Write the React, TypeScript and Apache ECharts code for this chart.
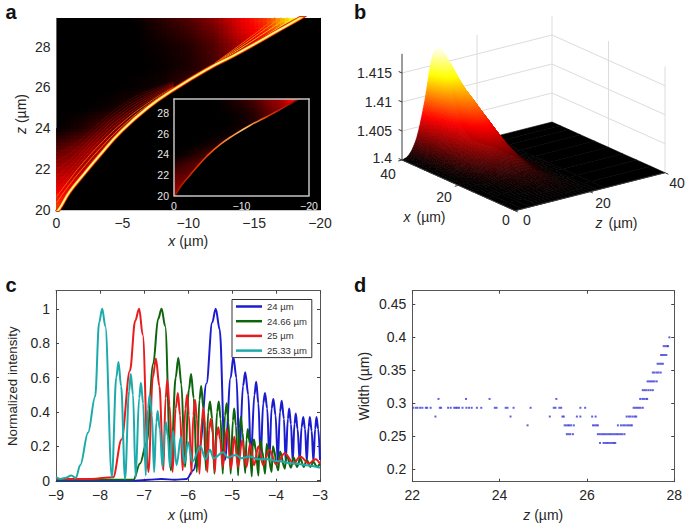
import React, { useEffect, useRef } from "react";
import * as echarts from "echarts";

const FONT = "Liberation Sans";
const TXT = "#262626";

// ---------- panel a ----------
const aFieldX = [0, -2, -4, -6, -8, -10, -12, -14, -16, -18, -20];
const aFieldZ = [20, 21, 22, 23, 24, 25, 26, 27, 28, 29, 29.4];
const aField = [
  [0.5, 0.4, 0, 0, 0, 0, 0, 0, 0, 0, 0],
  [0.36, 0.36, 0.25, 0, 0, 0, 0, 0, 0, 0, 0],
  [0.25, 0.27, 0.3, 0.2, 0, 0, 0, 0, 0, 0, 0],
  [0.12, 0.2, 0.28, 0.32, 0.2, 0, 0, 0, 0, 0, 0],
  [0, 0.05, 0.14, 0.25, 0.3, 0.15, 0, 0, 0, 0, 0],
  [0, 0, 0.02, 0.07, 0.17, 0.26, 0.1, 0, 0, 0, 0],
  [0, 0, 0, 0.01, 0.03, 0.11, 0.2, 0.18, 0, 0, 0],
  [0, 0, 0, 0, 0.01, 0.04, 0.1, 0.24, 0.3, 0, 0],
  [0, 0, 0, 0, 0.02, 0.05, 0.12, 0.25, 0.38, 0.5, 0],
  [0, 0, 0, 0, 0.05, 0.1, 0.18, 0.33, 0.44, 0.72, 0.7],
  [0, 0, 0, 0.02, 0.07, 0.13, 0.22, 0.36, 0.47, 0.8, 0.8],
];
const caustic = [[0, 19.9], [-0.25, 20.1], [-1, 20.9], [-2, 21.7], [-3.3, 22.7], [-4.9, 23.85], [-6.9, 25], [-8.9, 25.9], [-11.6, 26.95], [-13.4, 27.55], [-14.9, 28.08], [-16.8, 28.78], [-18.5, 29.4], [-19, 29.6]];
const lowFringes = [
  [[0, 20.35], [-1, 21.25], [-2, 22.05], [-3.3, 23], [-4.9, 24.05], [-6.9, 25.12], [-8.9, 25.97]],
  [[0, 20.65], [-1, 21.5], [-2, 22.3], [-3.3, 23.22], [-4.9, 24.22], [-6.9, 25.22], [-8.9, 26.02]],
  [[0, 20.95], [-1, 21.72], [-2, 22.5], [-3.3, 23.42], [-4.9, 24.38], [-6.9, 25.32], [-8.9, 26.06]],
  [[0, 21.3], [-1, 21.95], [-2, 22.7], [-3.3, 23.6], [-4.9, 24.52], [-6.9, 25.42], [-8.9, 26.1]],
  [[0, 21.65], [-1, 22.2], [-2, 22.9], [-3.3, 23.78], [-4.9, 24.68], [-6.9, 25.52], [-8.9, 26.14]],
  [[0, 22], [-1, 22.45], [-2, 23.1], [-3.3, 23.95], [-4.9, 24.82], [-6.9, 25.62], [-8.9, 26.18]],
  [[0, 22.4], [-1, 22.75], [-2, 23.3], [-3.3, 24.12], [-4.9, 24.98], [-6.9, 25.72], [-8.9, 26.22]],
  [[0, 22.8], [-1, 23.05], [-2, 23.55], [-3.3, 24.3], [-4.9, 25.12], [-6.9, 25.82], [-8.9, 26.26]],
];
const highFringes = [
  [[-12, 27.12], [-14, 27.82], [-16, 28.58], [-18.1, 29.45]],
  [[-12, 27.14], [-14, 27.92], [-16, 28.76], [-17.6, 29.45]],
  [[-12, 27.16], [-14, 28.02], [-16, 28.94], [-17.1, 29.45]],
  [[-12, 27.18], [-14, 28.12], [-16, 29.1], [-16.6, 29.45]],
];
const aXTicks = [0, -5, -10, -15, -20];
const aZTicks = [20, 22, 24, 26, 28];
const insetXTicks = [0, -10, -20];

// ---------- panel b ----------
const bX = [40, 37, 34, 30, 25, 20, 15, 10, 5, 0];
const bZ = [0, 2, 4, 6, 8, 10, 12, 14, 16, 18, 20, 22, 24, 40];
const bH = [
  [0, 0.7, 3.4, 9, 16.3, 17.7, 14, 8, 3.5, 1, 0.2, 0, 0, 0],
  [0, 0.5, 2.6, 7, 12.5, 15.5, 13.5, 8, 3.5, 1, 0.2, 0, 0, 0],
  [0, 0.4, 1.8, 5, 9, 11.5, 11.8, 9, 5, 1.8, 0.4, 0, 0, 0],
  [0, 0.3, 1.2, 3.2, 6, 8.6, 9.5, 8, 4.5, 1.5, 0.3, 0, 0, 0],
  [0, 0.15, 0.7, 1.8, 3.5, 5.2, 6.1, 5.8, 3.8, 1.7, 0.4, 0.1, 0, 0],
  [0, 0.1, 0.3, 0.7, 1.5, 2.3, 2.8, 3, 2.4, 1.2, 0.4, 0.1, 0, 0],
  [0, 0, 0.1, 0.3, 0.6, 0.9, 1.2, 1.3, 1.2, 0.7, 0.2, 0, 0, 0],
  [0, 0, 0, 0.1, 0.2, 0.35, 0.5, 0.6, 0.6, 0.4, 0.2, 0, 0, 0],
  [0, 0, 0, 0, 0.05, 0.1, 0.15, 0.2, 0.2, 0.15, 0.1, 0, 0, 0],
  [0, 0, 0, 0, 0, 0, 0, 0, 0, 0, 0, 0, 0, 0],
];
const bWallLevels = [5, 10, 15];
const bWallTop = 18.3;

// ---------- panel c ----------
const blue = [[-9, 0], [-7.2, 0], [-6.9, 0.005], [-6.6, 0.01], [-6.3, 0.005], [-6.03, 0.01], [-5.88, 0.06], [-5.73, 0.2], [-5.58, 0.565], [-5.45, 0.92], [-5.37, 1], [-5.28, 0.88], [-5.16, 0.12], [-5.03, 0.6], [-4.97, 0.72], [-4.9, 0.6], [-4.83, 0.15], [-4.75, 0.55], [-4.7, 0.63], [-4.63, 0.5], [-4.57, 0.14], [-4.49, 0.5], [-4.45, 0.575], [-4.4, 0.45], [-4.35, 0.13], [-4.29, 0.45], [-4.25, 0.51], [-4.2, 0.42], [-4.15, 0.12], [-4.1, 0.42], [-4.06, 0.475], [-4.01, 0.38], [-3.96, 0.11], [-3.91, 0.4], [-3.87, 0.465], [-3.82, 0.36], [-3.78, 0.11], [-3.73, 0.36], [-3.7, 0.42], [-3.66, 0.33], [-3.62, 0.11], [-3.58, 0.33], [-3.55, 0.39], [-3.51, 0.3], [-3.46, 0.11], [-3.42, 0.31], [-3.38, 0.37], [-3.34, 0.3], [-3.3, 0.11], [-3.26, 0.31], [-3.23, 0.37], [-3.19, 0.29], [-3.15, 0.11], [-3.11, 0.3], [-3.08, 0.37], [-3.04, 0.3], [-3, 0.12]];
const green = [[-9, 0.005], [-7.24, 0.005], [-7.09, 0.1], [-6.94, 0.22], [-6.79, 0.68], [-6.68, 0.94], [-6.6, 1], [-6.52, 0.9], [-6.39, 0.06], [-6.28, 0.6], [-6.22, 0.715], [-6.15, 0.56], [-6.07, 0.08], [-5.98, 0.53], [-5.93, 0.62], [-5.87, 0.48], [-5.8, 0.05], [-5.74, 0.47], [-5.7, 0.55], [-5.65, 0.42], [-5.59, 0.06], [-5.54, 0.4], [-5.5, 0.46], [-5.45, 0.36], [-5.4, 0.04], [-5.34, 0.4], [-5.3, 0.46], [-5.26, 0.36], [-5.21, 0.04], [-5.16, 0.38], [-5.12, 0.45], [-5.08, 0.34], [-5.03, 0.04], [-4.98, 0.35], [-4.95, 0.42], [-4.91, 0.32], [-4.86, 0.03], [-4.83, 0.3], [-4.8, 0.37], [-4.76, 0.28], [-4.7, 0.045], [-4.67, 0.24], [-4.64, 0.3], [-4.6, 0.22], [-4.55, 0.025], [-4.53, 0.2], [-4.5, 0.24], [-4.46, 0.18], [-4.4, 0.03], [-4.38, 0.18], [-4.35, 0.235], [-4.31, 0.17], [-4.25, 0.04], [-4.21, 0.215], [-4.1, 0.05], [-4.07, 0.2], [-3.95, 0.06], [-3.91, 0.17], [-3.8, 0.07], [-3.76, 0.15], [-3.66, 0.075], [-3.6, 0.135], [-3.52, 0.08], [-3.45, 0.13], [-3.37, 0.08], [-3.3, 0.12], [-3.22, 0.08], [-3.15, 0.11], [-3.07, 0.08], [-3, 0.1]];
const red = [[-9, 0.01], [-8.2, 0.01], [-7.7, 0.02], [-7.51, 0.24], [-7.32, 0.64], [-7.2, 0.93], [-7.11, 1], [-7.03, 0.85], [-6.9, 0.05], [-6.8, 0.6], [-6.73, 0.71], [-6.65, 0.55], [-6.56, 0.06], [-6.51, 0.48], [-6.47, 0.585], [-6.42, 0.44], [-6.35, 0.05], [-6.28, 0.42], [-6.23, 0.51], [-6.18, 0.38], [-6.12, 0.06], [-6.06, 0.42], [-6.02, 0.5], [-5.98, 0.38], [-5.92, 0.04], [-5.88, 0.38], [-5.84, 0.47], [-5.8, 0.36], [-5.74, 0.04], [-5.69, 0.34], [-5.65, 0.42], [-5.61, 0.32], [-5.56, 0.05], [-5.52, 0.3], [-5.48, 0.36], [-5.44, 0.28], [-5.39, 0.05], [-5.35, 0.26], [-5.31, 0.31], [-5.27, 0.24], [-5.21, 0.08], [-5.12, 0.3], [-5.02, 0.07], [-4.95, 0.255], [-4.86, 0.08], [-4.77, 0.235], [-4.67, 0.08], [-4.59, 0.215], [-4.5, 0.09], [-4.4, 0.2], [-4.29, 0.09], [-4.15, 0.18], [-4, 0.095], [-3.8, 0.16], [-3.6, 0.1], [-3.45, 0.14], [-3.25, 0.1], [-3.1, 0.125], [-3, 0.1]];
const teal = [[-9, 0.02], [-8.9, 0.01], [-8.8, 0.015], [-8.65, 0.03], [-8.55, 0.015], [-8.45, 0.09], [-8.27, 0.28], [-8.11, 0.49], [-8.02, 0.92], [-7.95, 1], [-7.88, 0.9], [-7.73, 0.02], [-7.63, 0.6], [-7.58, 0.69], [-7.52, 0.55], [-7.43, 0.01], [-7.34, 0.52], [-7.3, 0.62], [-7.25, 0.5], [-7.19, 0.02], [-7.11, 0.48], [-7.07, 0.57], [-7.02, 0.45], [-6.96, 0.03], [-6.91, 0.42], [-6.87, 0.5], [-6.82, 0.38], [-6.77, 0.05], [-6.72, 0.34], [-6.69, 0.405], [-6.64, 0.3], [-6.58, 0.08], [-6.53, 0.29], [-6.5, 0.34], [-6.46, 0.26], [-6.41, 0.08], [-6.34, 0.29], [-6.26, 0.09], [-6.16, 0.255], [-6.08, 0.1], [-6, 0.225], [-5.9, 0.11], [-5.72, 0.2], [-5.6, 0.125], [-5.5, 0.18], [-5.42, 0.13], [-5.2, 0.165], [-5.1, 0.135], [-4.9, 0.15], [-4.8, 0.13], [-4.6, 0.14], [-4.4, 0.125], [-4.2, 0.125], [-4, 0.115], [-3.6, 0.1], [-3.3, 0.09], [-3, 0.075]];
const cXTicks = [-9, -8, -7, -6, -5, -4, -3];
const cYTicks = [0, 0.2, 0.4, 0.6, 0.8, 1];

// ---------- panel d ----------
const dLevels: [number, number[]][] = [
  [0.24, [26.3, 26.38, 26.42, 26.46, 26.5, 26.54, 26.58, 26.62, 26.65]],
  [0.2533, [25.54, 25.58, 25.62, 25.68, 26.25, 26.29, 26.33, 26.37, 26.41, 26.45, 26.49, 26.53, 26.57, 26.61, 26.65, 26.69, 26.73, 26.77, 26.81, 26.86]],
  [0.2667, [24.64, 25.49, 25.53, 25.57, 25.6, 25.64, 25.7, 26.14, 26.18, 26.22, 26.25, 26.71, 26.78, 26.83, 26.87, 26.92, 26.96, 27.0, 27.03]],
  [0.28, [22.53, 24.25, 25.15, 25.44, 25.47, 25.77, 25.85, 26.12, 26.2, 26.91, 26.96, 27.0, 27.05, 27.1, 27.13]],
  [0.2933, [22.02, 22.08, 22.12, 22.18, 22.23, 22.31, 22.34, 22.42, 22.63, 22.66, 22.82, 22.88, 22.96, 23.0, 23.03, 23.07, 23.15, 23.24, 23.3, 23.36, 23.48, 23.58, 23.89, 23.93, 24.14, 24.18, 24.32, 24.71, 25.24, 25.28, 25.37, 25.41, 25.85, 25.96, 27.07, 27.11, 27.15, 27.19, 27.23, 27.28]],
  [0.3067, [22.6, 23.23, 23.77, 25.3, 27.22, 27.27, 27.31, 27.36, 27.38]],
  [0.32, [27.28, 27.32, 27.36, 27.41, 27.46, 27.51]],
  [0.3333, [27.39, 27.43, 27.47, 27.51, 27.55, 27.6]],
  [0.3467, [27.51, 27.55, 27.6, 27.64, 27.69]],
  [0.36, [27.62, 27.66, 27.7, 27.74]],
  [0.3733, [27.7, 27.74, 27.78, 27.82]],
  [0.3867, [27.76, 27.8, 27.84, 27.86]],
  [0.4, [27.89]],
];
const dXTicks = [22, 24, 26, 28];
const dYTicks = [0.2, 0.25, 0.3, 0.35, 0.4, 0.45];

function clamp01(v: number) {
  return Math.max(0, Math.min(1, v));
}
function hot(t: number) {
  const r = clamp01(t / 0.375);
  const g = clamp01((t - 0.375) / 0.375);
  const b = clamp01((t - 0.75) / 0.25);
  return `rgb(${Math.round(r * 255)},${Math.round(g * 255)},${Math.round(b * 255)})`;
}
const minus = (v: number) => String(v).replace("-", "\u2212");

const axisTitle = (text: string, italicFirst: boolean) =>
  italicFirst ? `{i|${text[0]}}${text.slice(1)}` : text;
const nameStyle = (fontSize = 14) => ({
  fontFamily: FONT,
  fontSize,
  color: TXT,
  rich: { i: { fontFamily: FONT, fontStyle: "italic", fontSize, color: TXT } },
});

function boxX(gridIndex: number, min: number, max: number, ticks: number[], name: string, color: string, tickLen: number, inverse = false, gap = 26): any[] {
  const common = {
    type: "value", gridIndex, min, max, inverse, splitLine: { show: false },
    axisLine: { show: true, onZero: false, lineStyle: { color, width: 1 } },
    axisTick: { show: tickLen > 0, inside: true, length: tickLen, customValues: ticks, lineStyle: { color: "#444" } },
  };
  return [
    {
      ...common, position: "bottom", name: axisTitle(name, true), nameLocation: "middle", nameGap: gap, nameTextStyle: nameStyle(),
      axisLabel: { customValues: ticks, formatter: minus, fontFamily: FONT, fontSize: 14, color: TXT, margin: 6, hideOverlap: false },
    },
    { ...common, position: "top", axisLabel: { show: false } },
  ];
}
function boxY(gridIndex: number, min: number, max: number, ticks: number[], name: string, italic: boolean, color: string, tickLen: number, gap: number, nameSize = 14): any[] {
  const common = {
    type: "value", gridIndex, min, max, splitLine: { show: false },
    axisLine: { show: true, onZero: false, lineStyle: { color, width: 1 } },
    axisTick: { show: tickLen > 0, inside: true, length: tickLen, customValues: ticks, lineStyle: { color: "#444" } },
  };
  return [
    {
      ...common, position: "left", name: axisTitle(name, italic), nameLocation: "middle", nameGap: gap, nameTextStyle: nameStyle(nameSize),
      axisLabel: { customValues: ticks, fontFamily: FONT, fontSize: 14, color: TXT, margin: 6 },
    },
    { ...common, position: "right", axisLabel: { show: false } },
  ];
}

function fieldCells() {
  const out: number[][] = [];
  for (let j = 0; j < aFieldZ.length - 1; j++) {
    for (let i = 0; i < aFieldX.length - 1; i++) {
      out.push([aFieldX[i], aFieldZ[j], aFieldX[i + 1], aFieldZ[j + 1], aField[j][i], aField[j][i + 1], aField[j + 1][i], aField[j + 1][i + 1]]);
    }
  }
  return out;
}
function fieldRender(scale: number) {
  return (params: any, api: any) => {
    const [x0, z0, x1, z1, a, b, c, d] = [0, 1, 2, 3, 4, 5, 6, 7].map((k) => api.value(k));
    if (Math.max(a, b, c, d) <= 0) return { type: "group", children: [] };
    const n = 6;
    const children: any[] = [];
    for (let u = 0; u < n; u++) {
      for (let v = 0; v < n; v++) {
        const fu = (u + 0.5) / n;
        const fv = (v + 0.5) / n;
        const t = (a * (1 - fu) + b * fu) * (1 - fv) + (c * (1 - fu) + d * fu) * fv;
        if (t <= 0.005) continue;
        const xa = x0 + ((x1 - x0) * u) / n;
        const xb = x0 + ((x1 - x0) * (u + 1)) / n;
        const za = z0 + ((z1 - z0) * v) / n;
        const zb = z0 + ((z1 - z0) * (v + 1)) / n;
        const col = hot(t * scale);
        children.push({
          type: "polygon", silent: true,
          shape: { points: [api.coord([xa, za]), api.coord([xb, za]), api.coord([xb, zb]), api.coord([xa, zb])] },
          style: { fill: col, stroke: col, lineWidth: 0.6 },
        });
      }
    }
    return { type: "group", children };
  };
}

function aSeries(xIdx: number, yIdx: number, inset: boolean): any[] {
  const zb = inset ? 6 : 0;
  const line = (data: number[][], color: any, width: number, opacity = 1, z = 3) => ({
    type: "line", xAxisIndex: xIdx, yAxisIndex: yIdx, data, symbol: "none", smooth: 0.5, clip: true, z: z + zb,
    lineStyle: { color, width, opacity }, silent: true,
  });
  const s: any[] = [
    { type: "custom", xAxisIndex: xIdx, yAxisIndex: yIdx, data: fieldCells(), encode: { x: [0, 2], y: [1, 3] }, clip: true, z: 1 + zb, silent: true, renderItem: fieldRender(inset ? 0.55 : 1) },
    {
      type: "custom", xAxisIndex: xIdx, yAxisIndex: yIdx, data: [[0, 20]], clip: true, z: 2 + zb, silent: true,
      renderItem: (_: any, api: any) => ({
        type: "polygon", silent: true,
        shape: { points: [...caustic, [-25, 29.6], [-25, 15], [0, 15]].map((p) => api.coord(p)) },
        style: { fill: "#000" },
      }),
    },
  ];
  if (!inset) {
    lowFringes.forEach((f, i) => s.push(line(f, i < 2 ? "#ff7a00" : "#e01400", i < 2 ? 1 : 0.9, 0.85 - i * 0.09)));
    highFringes.forEach((f, i) => s.push(line(f, ["#ffe030", "#ffc000", "#ff9000", "#ff6000"][i], 1)));
    s.push(line(caustic, "#d81800", 4, 1, 4), line(caustic, "#ffb000", 2.6, 1, 4), line(caustic, "#fff6b0", 1.3, 1, 4));
  } else {
    const grad = new echarts.graphic.LinearGradient(0, 0, 1, 0, [
      { offset: 0, color: "#a01000" }, { offset: 0.25, color: "#f04000" }, { offset: 0.55, color: "#ffc060" },
      { offset: 0.75, color: "#e03000" }, { offset: 1, color: "#600800" },
    ]);
    s.push(line(caustic, grad, 1.6, 1, 4));
  }
  return s;
}

// painter's order: far corner (x = 40, z = 40) first
function project(x: number, z: number, h: number): [number, number] {
  return [515 - 2.825 * x + 3.75 * z, 210.7 - 1.2675 * x - 0.95 * z - 5.8 * h];
}
function cr(p0: number, p1: number, p2: number, p3: number, t: number) {
  return 0.5 * (2 * p1 + (p2 - p0) * t + (2 * p0 - 5 * p1 + 4 * p2 - p3) * t * t + (3 * p1 - p0 - 3 * p2 + p3) * t * t * t);
}
function surface(i: number, j: number, fu: number, fv: number) {
  const ri = (k: number) => Math.max(0, Math.min(bX.length - 1, k));
  const rj = (k: number) => Math.max(0, Math.min(bZ.length - 1, k));
  const row = (r: number) => cr(bH[ri(r)][rj(j - 1)], bH[ri(r)][rj(j)], bH[ri(r)][rj(j + 1)], bH[ri(r)][rj(j + 2)], fv);
  return Math.max(0, cr(row(i - 1), row(i), row(i + 1), row(i + 2), fu));
}
function bCells() {
  const out: number[][] = [];
  for (let i = 0; i < bX.length - 1; i++) {
    for (let j = bZ.length - 2; j >= 0; j--) out.push([i, j]);
  }
  return out;
}
function bRender(_: any, api: any) {
  const i = api.value(0);
  const j = api.value(1);
  const corners = [bH[i][j], bH[i][j + 1], bH[i + 1][j], bH[i + 1][j + 1]];
  const range = Math.max(...corners) - Math.min(...corners);
  const top = Math.max(...corners);
  const n = top === 0 ? 1 : Math.max(2, Math.min(12, Math.ceil(range * 2.5) + 1));
  const children: any[] = [];
  for (let u = 0; u < n; u++) {
    for (let v = n - 1; v >= 0; v--) {
      const f = [[u / n, v / n], [(u + 1) / n, v / n], [(u + 1) / n, (v + 1) / n], [u / n, (v + 1) / n]];
      const pts = f.map(([fu, fv]) => api.coord(project(bX[i] + (bX[i + 1] - bX[i]) * fu, bZ[j] + (bZ[j + 1] - bZ[j]) * fv, surface(i, j, fu, fv))));
      const col = hot(surface(i, j, (u + 0.5) / n, (v + 0.5) / n) / 18);
      children.push({ type: "polygon", silent: true, shape: { points: pts }, style: { fill: col, stroke: col, lineWidth: 0.6 } });
    }
  }
  return { type: "group", children };
}
function bFrame(): number[][] {
  // x0, z0, h0, x1, z1, h1, kind (0 wall, 1 axis)
  const segs: number[][] = [];
  bWallLevels.forEach((h) => {
    segs.push([40, 0, h, 40, 40, h, 0], [40, 40, h, 0, 40, h, 0]);
  });
  segs.push([40, 20, 0, 40, 20, bWallTop, 0], [40, 40, 0, 40, 40, bWallTop, 0], [20, 40, 0, 20, 40, bWallTop, 0], [0, 40, 0, 0, 40, bWallTop, 0]);
  return segs;
}
function bAxisSegs(): number[][] {
  return [
    [40, 0, 0, 40, 0, bWallTop, 1], [40, 0, 0, 0, 0, 0, 1], [0, 0, 0, 0, 40, 0, 1],
    [40, 0, 5, 41.2, 0, 5, 1], [40, 0, 10, 41.2, 0, 10, 1], [40, 0, 15, 41.2, 0, 15, 1], [40, 0, 0, 41.2, 0, 0, 1],
    [20, 0, 0, 20, -1, 0, 1], [40, 0, 0, 40, -1, 0, 1], [0, 20, 0, -1, 20, 0, 1], [0, 40, 0, -1.2, 40, 0, 1],
    [0, 0, 0, -1, 0, 0, 1],
  ];
}
function segRender(_: any, api: any) {
  const v = [0, 1, 2, 3, 4, 5, 6].map((k) => api.value(k));
  const a = api.coord(project(v[0], v[1], v[2]));
  const b = api.coord(project(v[3], v[4], v[5]));
  return {
    type: "line", silent: true, shape: { x1: a[0], y1: a[1], x2: b[0], y2: b[1] },
    style: { stroke: v[6] ? "#3a3a3a" : "#dcdcdc", lineWidth: 1 },
  };
}

const label = (text: string, x: number, y: number, opts: any = {}) => ({
  type: "text", x, y, silent: true,
  style: { text, fontFamily: FONT, fontSize: 14, fill: TXT, textAlign: "center", textVerticalAlign: "middle", ...opts },
});
const richUnit = (letter: string, x: number, y: number) => ({
  type: "group", children: [
    label(letter, x - 17, y, { fontStyle: "italic" }),
    label("(\u00b5m)", x + 7, y),
  ],
});

export default function App() {
  const ref = useRef<HTMLDivElement>(null);
  useEffect(() => {
    const chart = echarts.init(ref.current!, null, { renderer: "svg" });
    const dData: number[][] = [];
    dLevels.forEach(([y, xs]) => xs.forEach((x) => dData.push([x, y])));
    const cLine = (name: string, data: number[][], color: string, z: number) => ({
      name, type: "line", xAxisIndex: 6, yAxisIndex: 6, data, symbol: "none", smooth: 0.35, smoothMonotone: "x", z,
      lineStyle: { color, width: 2 }, itemStyle: { color }, clip: true,
    });
    const insetTick = { fontFamily: FONT, fontSize: 10.5, color: "#e6e6e6", margin: 5 };
    chart.setOption({
      animation: false,
      backgroundColor: "#fff",
      grid: [
        { left: 56.5, top: 18, width: 263.5, height: 192, show: true, backgroundColor: "#000", borderWidth: 0, z: 1 },
        { left: 174, top: 99, width: 135, height: 96.5, show: true, backgroundColor: "#000", borderWidth: 0, z: 5 },
        { left: 0, top: 0, width: 685, height: 525 },
        { left: 56, top: 290.7, width: 264, height: 191 },
        { left: 412.3, top: 290.7, width: 262.7, height: 191 },
      ],
      xAxis: [
        ...boxX(0, -20, 0, aXTicks, "x (\u00b5m)", "#c8c8c8", 0, true, 24),
        {
          type: "value", gridIndex: 1, min: -20, max: 0, inverse: true, position: "bottom", splitLine: { show: false }, z: 12,
          axisLine: { show: true, onZero: false, lineStyle: { color: "#c4c4c4", width: 1.5 } }, axisTick: { show: false },
          axisLabel: { ...insetTick, customValues: insetXTicks, formatter: minus },
        },
        { type: "value", gridIndex: 1, min: -20, max: 0, inverse: true, position: "top", splitLine: { show: false }, z: 12, axisLine: { show: true, onZero: false, lineStyle: { color: "#c4c4c4", width: 1.5 } }, axisTick: { show: false }, axisLabel: { show: false } },
        { type: "value", gridIndex: 2, min: 0, max: 685, show: false },
        { type: "value", gridIndex: 2, min: 0, max: 685, show: false },
        ...boxX(3, -9, -3, cXTicks, "x (\u00b5m)", "#555", 3, false, 26),
        ...boxX(4, 22, 28, dXTicks, "z (\u00b5m)", "#555", 3, false, 26),
      ],
      yAxis: [
        ...boxY(0, 20, 29.4, aZTicks, "z (\u00b5m)", true, "#c8c8c8", 0, 29),
        {
          type: "value", gridIndex: 1, min: 20, max: 29.4, position: "left", splitLine: { show: false }, z: 12,
          axisLine: { show: true, onZero: false, lineStyle: { color: "#c4c4c4", width: 1.5 } }, axisTick: { show: false },
          axisLabel: { ...insetTick, customValues: aZTicks, margin: 5 },
        },
        { type: "value", gridIndex: 1, min: 20, max: 29.4, position: "right", splitLine: { show: false }, z: 12, axisLine: { show: true, onZero: false, lineStyle: { color: "#c4c4c4", width: 1.5 } }, axisTick: { show: false }, axisLabel: { show: false } },
        { type: "value", gridIndex: 2, min: 0, max: 525, inverse: true, show: false },
        { type: "value", gridIndex: 2, min: 0, max: 525, inverse: true, show: false },
        ...boxY(3, -0.006, 1.105, cYTicks, "Normalized intensity", false, "#555", 3, 37, 13.3),
        ...boxY(4, 0.1813, 0.4707, dYTicks, "Width (\u00b5m)", false, "#555", 3, 41),
      ],
      legend: {
        left: 232, top: 299.5, orient: "vertical", backgroundColor: "#fff", borderColor: "#333", borderWidth: 1, borderRadius: 0,
        padding: [2, 5, 2, 4], itemWidth: 26, itemHeight: 2.5, icon: "rect", itemGap: 4.7, selectedMode: false,
        textStyle: { fontFamily: FONT, fontSize: 9.5, color: "#333" },
        data: ["24 \u00b5m", "24.66 \u00b5m", "25 \u00b5m", "25.33 \u00b5m"], z: 20,
      },
      graphic: [
        label("a", 11, 12, { fontWeight: "bold", fontSize: 20, fill: "#111" }),
        label("b", 360, 12, { fontWeight: "bold", fontSize: 20, fill: "#111" }),
        label("c", 11, 285, { fontWeight: "bold", fontSize: 20, fill: "#111" }),
        label("d", 360, 285, { fontWeight: "bold", fontSize: 20, fill: "#111" }),
        label("1.415", 392, 73, { textAlign: "right" }),
        label("1.41", 392, 102, { textAlign: "right" }),
        label("1.405", 392, 131, { textAlign: "right" }),
        label("1.4", 392, 157.5, { textAlign: "right" }),
        label("40", 388, 173.5),
        label("20", 444, 197),
        label("0", 506, 220),
        label("0", 527, 220),
        label("20", 603, 203),
        label("40", 677, 183),
        richUnit("x", 424, 217),
        richUnit("z", 616, 223),
      ],
      series: [
        ...aSeries(0, 0, false),
        ...aSeries(2, 2, true),
        { type: "custom", xAxisIndex: 4, yAxisIndex: 4, data: bFrame(), encode: { x: 0, y: 1 }, renderItem: segRender, silent: true, z: 1, clip: false },
        { type: "custom", xAxisIndex: 4, yAxisIndex: 4, data: bCells(), encode: { x: 0, y: 1 }, renderItem: bRender, silent: true, z: 2, clip: false },
        { type: "custom", xAxisIndex: 4, yAxisIndex: 4, data: bAxisSegs(), encode: { x: 0, y: 1 }, renderItem: segRender, silent: true, z: 3, clip: false },
        cLine("24 \u00b5m", blue, "#1c1ccf", 3),
        cLine("24.66 \u00b5m", green, "#0d640d", 4),
        cLine("25 \u00b5m", red, "#e81c1c", 5),
        cLine("25.33 \u00b5m", teal, "#1daaaa", 6),
        { type: "scatter", xAxisIndex: 8, yAxisIndex: 8, data: dData, symbol: "rect", symbolSize: 2, itemStyle: { color: "#3a3ad8" }, silent: true },
      ],
    });
    return () => chart.dispose();
  }, []);
  return <div ref={ref} style={{ position: "absolute", left: 0, top: 0, width: 685, height: 525 }} />;
}
